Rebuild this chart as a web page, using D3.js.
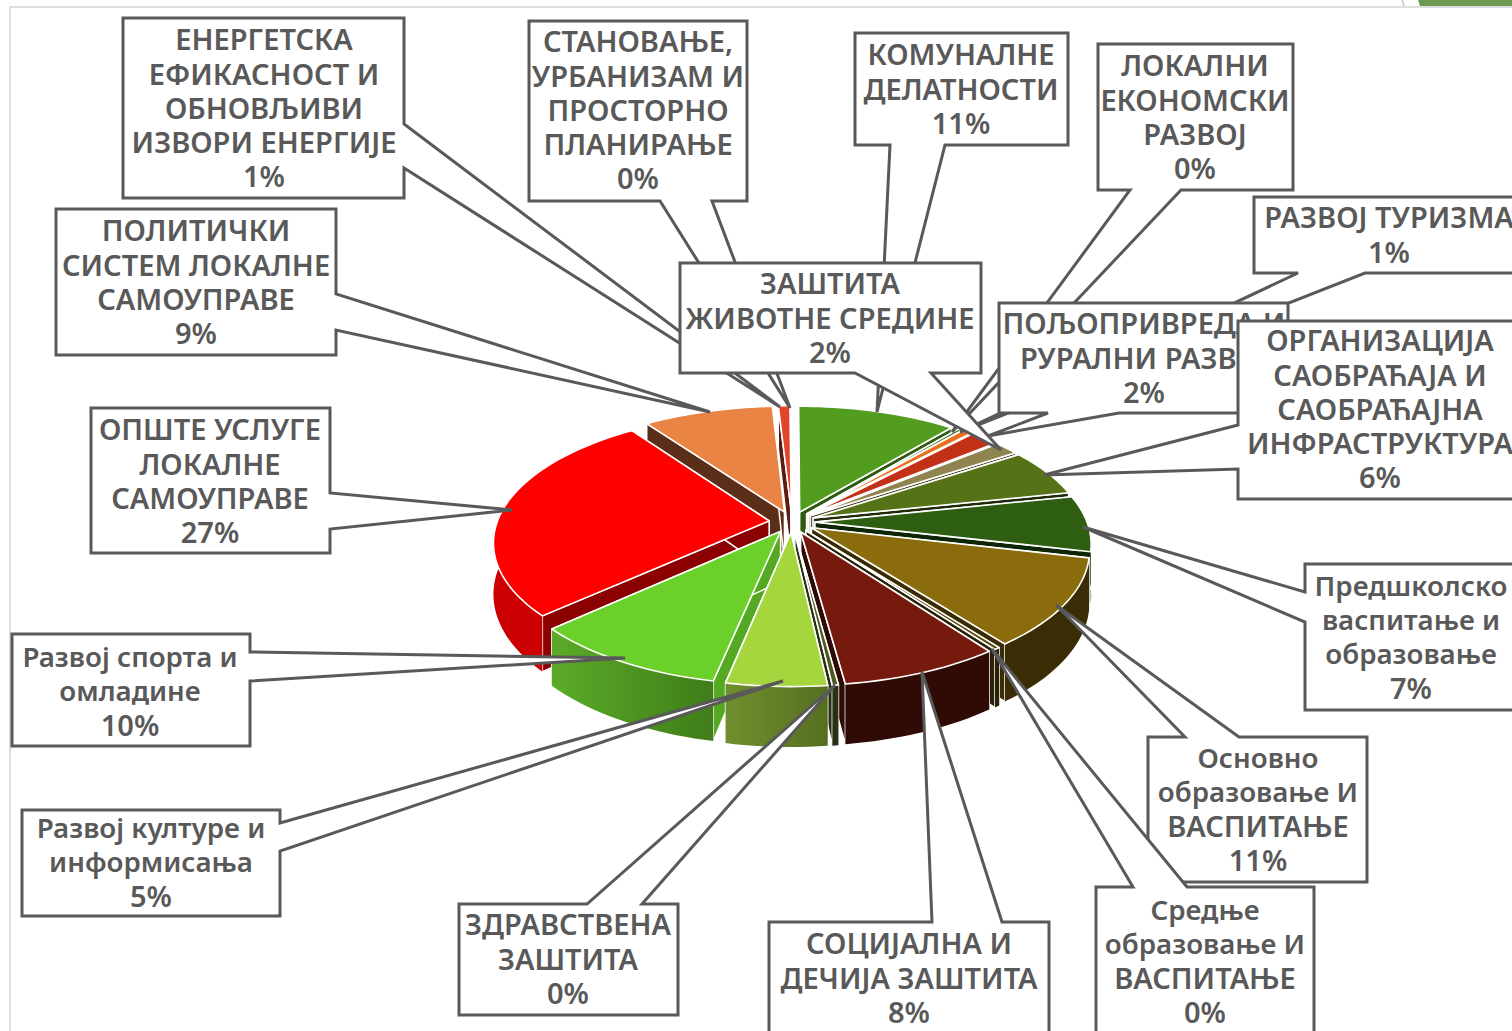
<!DOCTYPE html>
<html><head><meta charset="utf-8">
<style>html,body{margin:0;padding:0;background:#fff;overflow:hidden}svg{display:block}</style>
<script src="https://cdnjs.cloudflare.com/ajax/libs/d3/7.8.5/d3.min.js"></script>
</head><body><svg id="c" width="1512" height="1031"></svg>
<script>
// ---- data ----
const categories = ["КОМУНАЛНЕ ДЕЛАТНОСТИ","ЛОКАЛНИ ЕКОНОМСКИ РАЗВОЈ","РАЗВОЈ ТУРИЗМА","ПОЉОПРИВРЕДА И РУРАЛНИ РАЗВОЈ","ЗАШТИТА ЖИВОТНЕ СРЕДИНЕ","ОРГАНИЗАЦИЈА САОБРАЋАЈА И САОБРАЋАЈНА ИНФРАСТРУКТУРА","Предшколско васпитање и образовање","Основно образовање И ВАСПИТАЊЕ","Средње образовање И ВАСПИТАЊЕ","СОЦИЈАЛНА И ДЕЧИЈА ЗАШТИТА","ЗДРАВСТВЕНА ЗАШТИТА","Развој културе и информисања","Развој спорта и омладине","ОПШТЕ УСЛУГЕ ЛОКАЛНЕ САМОУПРАВЕ","ПОЛИТИЧКИ СИСТЕМ ЛОКАЛНЕ САМОУПРАВЕ","ЕНЕРГЕТСКА ЕФИКАСНОСТ И ОБНОВЉИВИ ИЗВОРИ ЕНЕРГИЈЕ","СТАНОВАЊЕ, УРБАНИЗАМ И ПРОСТОРНО ПЛАНИРАЊЕ"];
const values = [11,0.3,0.7,2,1.7,6,7,11,0.3,8,0.3,5,10,27,9,0.8,0.1];
const percentLabels = ["11%","0%","1%","2%","2%","6%","7%","11%","0%","8%","0%","5%","10%","27%","9%","1%","0%"];
const topColors = ["#529c20","#2f6a12","#e8701a","#c23016","#8f8350","#567216","#2e5e12","#8a6c0c","#5a4a10","#761a0e","#4a5a20","#a6d63e","#6cd02a","#ff0000","#e98444","#e0452c","#c23016"];
const wallColors = ["#2e5a12","#1d4a0c","#8a4210","#6a1a0c","#4c4628","#1f2a08","#0f2606","#3a2c04","#2a2208","#300a04","#2a3014","#5f7f26","#54a822","#8b0000","#5a2e18","#5c1a10","#5c1a10"];
const outerColors = ["#2e5a12","#1d4a0c","#8a4210","#6a1a0c","#4c4628","#1f2a08","#0f2606","#3a2c04","#2a2208","#300a04","#2a3014","url(#gLime)","url(#gGreen)","#cc0000","#5a2e18","#5c1a10","#5c1a10"];

// ---- callout layout: box [x0,y0,x1,y1], wedge [a,tip,b], text centre and lines ----
const callouts = [
 {box:[123,18,404,198],wedge:[[404,124],[780,407],[404,168]],side:"r",cx:264,y:41,lines:["ЕНЕРГЕТСКА","ЕФИКАСНОСТ И","ОБНОВЉИВИ","ИЗВОРИ ЕНЕРГИЈЕ","1%"]},
 {box:[529,21,747,201],wedge:[[660,201],[790,408],[712,201]],side:"b",cx:638,y:43,lines:["СТАНОВАЊЕ,","УРБАНИЗАМ И","ПРОСТОРНО","ПЛАНИРАЊЕ","0%"]},
 {box:[855,33,1068,145],wedge:[[890,145],[877,412],[945,145]],side:"b",cx:961,y:56,lines:["КОМУНАЛНЕ","ДЕЛАТНОСТИ","11%"]},
 {box:[1098,44,1293,190],wedge:[[1130,190],[952,432],[1181,190]],side:"b",cx:1195,y:67,lines:["ЛОКАЛНИ","ЕКОНОМСКИ","РАЗВОЈ","0%"]},
 {box:[1254,197,1530,273],wedge:[[1298,273],[960,432],[1365,273]],side:"b",cx:1389,y:219,lines:["РАЗВОЈ ТУРИЗМА","1%"]},
 {box:[999,303,1288,413],wedge:[[1048,413],[988,436],[1119,413]],side:"b",cx:1144,y:325,lines:["ПОЉОПРИВРЕДА И","РУРАЛНИ РАЗВОЈ","2%"]},
 {box:[680,263,981,373],wedge:[[855,373],[1001,450],[931,373]],side:"b",cx:830,y:285,lines:["ЗАШТИТА","ЖИВОТНЕ СРЕДИНЕ","2%"]},
 {box:[1238,321,1530,499],wedge:[[1238,425],[1044,475],[1238,469]],side:"l",cx:1380,y:342,lines:["ОРГАНИЗАЦИЈА","САОБРАЋАЈА И","САОБРАЋАЈНА","ИНФРАСТРУКТУРА","6%"]},
 {box:[1305,564,1530,710],wedge:[[1305,592],[1083,527],[1305,622]],side:"l",cx:1411,y:587,lines:["Предшколско","васпитање и","образовање","7%"]},
 {box:[1148,737,1367,882],wedge:[[1185,737],[1056,605],[1239,737]],side:"t",cx:1258,y:759,lines:["Основно","образовање И","ВАСПИТАЊЕ","11%"]},
 {box:[1096,887,1314,1060],wedge:[[1133,887],[992,649],[1187,887]],side:"t",cx:1205,y:911,lines:["Средње","образовање И","ВАСПИТАЊЕ","0%"]},
 {box:[769,922,1049,1060],wedge:[[932,922],[922,672],[1002,922]],side:"t",cx:909,y:945,lines:["СОЦИЈАЛНА И","ДЕЧИЈА ЗАШТИТА","8%"]},
 {box:[459,904,678,1015],wedge:[[587,904],[835,685],[642,904]],side:"t",cx:568,y:926,lines:["ЗДРАВСТВЕНА","ЗАШТИТА","0%"]},
 {box:[22,810,280,916],wedge:[[280,823],[783,681],[280,851]],side:"r",cx:151,y:829,lines:["Развој културе и","информисања","5%"]},
 {box:[12,634,250,746],wedge:[[250,652],[625,658],[250,681]],side:"r",cx:130,y:658,lines:["Развој спорта и","омладине","10%"]},
 {box:[91,408,330,553],wedge:[[330,493],[512,510],[330,529]],side:"r",cx:210,y:431,lines:["ОПШТЕ УСЛУГЕ","ЛОКАЛНЕ","САМОУПРАВЕ","27%"]},
 {box:[56,209,336,355],wedge:[[336,294],[710,412],[336,330]],side:"r",cx:196,y:232,lines:["ПОЛИТИЧКИ","СИСТЕМ ЛОКАЛНЕ","САМОУПРАВЕ","9%"]}
];
// ---- geometry of the tilted pie ----
const CX=792, CY=522, R=272, TILT=0.462, DEPTH=1714, H=50, EXPLODE=23;
const svg=d3.select("#c");
const defs=svg.append("defs");
function grad(id,a,b){const g=defs.append("linearGradient").attr("id",id);g.append("stop").attr("offset","0").attr("stop-color",a);g.append("stop").attr("offset","1").attr("stop-color",b);}
grad("gLime","#6f8f2e","#556f20");grad("gGreen","#5bab28","#3f7d18");

// frame and corner decoration
svg.append("path").attr("d","M10,1031V7H1512").attr("fill","none").attr("stroke","#dedede").attr("stroke-width",2);
svg.append("path").attr("d","M1418,0H1512V6H1420Z").attr("fill","#6d9c50");
svg.append("path").attr("d","M1402,0L1404,6").attr("stroke","#c4c4c4").attr("stroke-width",1.5);

function project(px,py,z){const d=DEPTH/(DEPTH-py);return [CX+px*d,CY+py*TILT*d+(H-z)*d];}
const pie=d3.pie().sort(null).value(d=>d.v);
const slices=pie(values.map((v,i)=>({v,i})));
const line=d3.line();
function pt(a,r){return [Math.sin(a)*r,-Math.cos(a)*r];}
function arcPts(s,e,ox,oy,z){const n=Math.max(2,Math.ceil((e-s)/0.03));return d3.range(n+1).map(k=>{const a=s+(e-s)*k/n,p=pt(a,R);return project(p[0]+ox,p[1]+oy,z);});}
const pieG=svg.append("g");
const order=slices.map(s=>{const m=(s.startAngle+s.endAngle)/2;return {s,m,depth:-Math.cos(m)};}).sort((a,b)=>a.depth-b.depth);
const WS="#ffffff";
order.forEach(({s,m})=>{
  const i=s.data.i, ox=Math.sin(m)*EXPLODE, oy=-Math.cos(m)*EXPLODE;
  const g=pieG.append("g");
  const c0=project(ox,oy,0), c1=project(ox,oy,H);
  const rim0=arcPts(s.startAngle,s.endAngle,ox,oy,0), rim1=arcPts(s.startAngle,s.endAngle,ox,oy,H);
  // radial walls
  [0,rim0.length-1].forEach(k=>{
    g.append("path").attr("d",line([c1,rim1[k],rim0[k],c0])+"Z").attr("fill",wallColors[i]).attr("stroke",WS).attr("stroke-width",1.5);
  });
  // outer wall, front part only
  const visible=d3.range(rim0.length).filter(k=>{const a=s.startAngle+(s.endAngle-s.startAngle)*k/(rim0.length-1);return Math.cos(a)<0.15;});
  if(visible.length>1){
    const a=visible.map(k=>rim1[k]), b=visible.map(k=>rim0[k]).reverse();
    g.append("path").attr("d",line(a.concat(b))+"Z").attr("fill",outerColors[i]);
  }
  // top face
  g.append("path").attr("d",line([c1].concat(rim1))+"Z").attr("fill",topColors[i]).attr("stroke",WS).attr("stroke-width",1.6).attr("stroke-linejoin","round");
});

// callouts
const FONT="'Noto Sans','Open Sans',sans-serif", LH=34.2;
const fontSizeOf=l=>l===l.toUpperCase()?29:27.7;
callouts.forEach(c=>{
  const [x0,y0,x1,y1]=c.box,[a,t,b]=c.wedge;
  let pts;
  if(c.side==="r") pts=[[x0,y0],[x1,y0],a,t,b,[x1,y1],[x0,y1]];
  if(c.side==="b") pts=[[x0,y0],[x1,y0],[x1,y1],b,t,a,[x0,y1]];
  if(c.side==="l") pts=[[x0,y0],[x1,y0],[x1,y1],[x0,y1],b,t,a];
  if(c.side==="t") pts=[[x0,y0],a,t,b,[x1,y0],[x1,y1],[x0,y1]];
  const g=svg.append("g");
  g.append("path").attr("d",line(pts)+"Z").attr("fill","#fff").attr("stroke","#595959").attr("stroke-width",3).attr("stroke-linejoin","miter");
  c.lines.forEach((l,k)=>g.append("text").attr("x",c.cx).attr("y",c.y-1+k*LH).attr("dy","0.36em").attr("text-anchor","middle")
    .attr("font-family",FONT).attr("font-weight",600).attr("font-size",fontSizeOf(l)).attr("fill","#595959").text(l));
});
</script></body></html>
